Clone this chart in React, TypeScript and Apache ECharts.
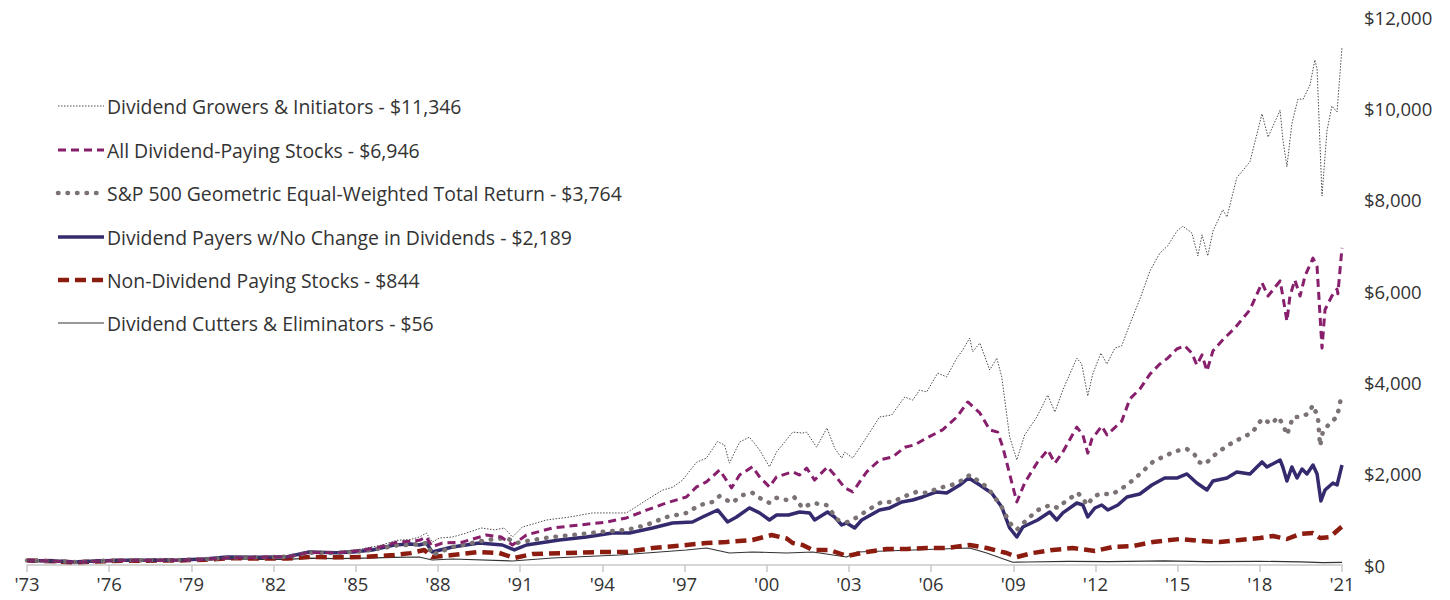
import React, { useEffect, useRef } from "react";
import * as echarts from "echarts";

const seriesNames = [
  "Dividend Growers & Initiators - $11,346",
  "All Dividend-Paying Stocks - $6,946",
  "S&P 500 Geometric Equal-Weighted Total Return - $3,764",
  "Dividend Payers w/No Change in Dividends - $2,189",
  "Non-Dividend Paying Stocks - $844",
  "Dividend Cutters & Eliminators - $56",
];

const yTicks = [0, 2000, 4000, 6000, 8000, 10000, 12000];
const xStartYear = 1973;
const xEndYear = 2021;

const growers: [number, number][] = [
  [1973, 100], [1973.5, 95], [1974, 80], [1974.75, 62], [1975.5, 85], [1976.5, 105], [1977.5, 105], [1978.5, 110],
  [1979.5, 130], [1980.5, 170], [1981.5, 180], [1982.5, 190], [1983.3, 300], [1984.3, 290], [1985.2, 350], [1985.9, 430],
  [1986.5, 540], [1987.0, 560], [1987.32, 613], [1987.58, 700], [1987.79, 500], [1988.05, 590], [1988.53, 613], [1989.04, 700],
  [1989.58, 810], [1990.06, 770], [1990.42, 810], [1990.72, 613], [1991.08, 830], [1991.96, 985], [1992.8, 1050], [1993.64, 1140],
  [1994.37, 1140], [1994.88, 1140], [1995.61, 1420], [1996.2, 1640], [1996.56, 1700], [1996.93, 1860], [1997.44, 2250], [1997.8, 2340],
  [1998.2, 2700], [1998.46, 2630], [1998.64, 2230], [1999.01, 2690], [1999.37, 2800], [1999.74, 2520], [2000.1, 2150], [2000.36, 2475],
  [2000.95, 2910], [2001.31, 2890], [2001.46, 2910], [2001.82, 2580], [2002.2, 3000], [2002.48, 2560], [2002.74, 2340], [2002.85, 2475],
  [2003.14, 2340], [2003.65, 2800], [2004.12, 3240], [2004.56, 3285], [2005.04, 3680], [2005.33, 3610], [2005.58, 3830], [2005.84, 3790],
  [2006.24, 4200], [2006.57, 4120], [2006.94, 4530], [2007.16, 4710], [2007.41, 4970], [2007.52, 4670], [2007.78, 4860], [2008.14, 4270],
  [2008.4, 4530], [2008.58, 4120], [2008.87, 2800], [2009.13, 2300], [2009.42, 2850], [2009.86, 3240], [2010.26, 3720], [2010.52, 3350],
  [2010.81, 3830], [2011.32, 4530], [2011.5, 4400], [2011.72, 3700], [2011.9, 4180], [2012.2, 4640], [2012.42, 4400], [2012.71, 4750],
  [2012.96, 4800], [2013.26, 5280], [2013.62, 5820], [2013.99, 6440], [2014.35, 6830], [2014.64, 6990], [2014.97, 7310], [2015.19, 7420],
  [2015.52, 7270], [2015.74, 6770], [2015.89, 7230], [2016.1, 6770], [2016.29, 7310], [2016.65, 7780], [2016.8, 7620], [2017.16, 8480],
  [2017.64, 8830], [2018.08, 9880], [2018.3, 9370], [2018.74, 9960], [2018.84, 9330], [2018.99, 8720], [2019.17, 9660], [2019.39, 10200],
  [2019.58, 10200], [2019.83, 10510], [2020.01, 11060], [2020.09, 10860], [2020.27, 8080], [2020.45, 9500], [2020.63, 10050], [2020.82, 9920],
  [2021.0, 11346],
];

const allPayers: [number, number][] = [
  [1973, 100], [1974, 82], [1974.75, 62], [1975.5, 82], [1976.5, 100], [1977.5, 100], [1978.5, 105], [1979.5, 125],
  [1980.5, 160], [1981.5, 170], [1982.5, 180], [1983.3, 280], [1984.3, 270], [1985.2, 320], [1985.9, 400], [1986.5, 500],
  [1987.0, 520], [1987.32, 540], [1987.58, 610], [1987.79, 400], [1988.16, 480], [1988.89, 500], [1989.77, 657], [1990.31, 613],
  [1990.72, 438], [1991.23, 657], [1992.18, 810], [1993.16, 876], [1994.15, 940], [1994.88, 1030], [1995.61, 1200], [1996.34, 1360],
  [1997.07, 1490], [1997.44, 1710], [1997.8, 1820], [1998.28, 2080], [1998.72, 1690], [1999.01, 1970], [1999.48, 2150], [1999.74, 1930],
  [2000.1, 1710], [2000.36, 1930], [2000.95, 2040], [2001.2, 1970], [2001.46, 2120], [2001.75, 1860], [2002.22, 2150], [2002.48, 1970],
  [2002.85, 1690], [2003.14, 1600], [2003.65, 2040], [2004.12, 2300], [2004.6, 2365], [2005.04, 2580], [2005.4, 2630], [2005.84, 2780],
  [2006.42, 2960], [2006.94, 3240], [2007.34, 3570], [2007.78, 3330], [2008.14, 2960], [2008.43, 2910], [2008.62, 2580], [2008.95, 1800],
  [2009.13, 1380], [2009.42, 1800], [2009.86, 2230], [2010.26, 2520], [2010.52, 2230], [2010.81, 2475], [2011.32, 3020], [2011.54, 2850],
  [2011.72, 2450], [2011.87, 2760], [2012.23, 3040], [2012.42, 2850], [2012.96, 3150], [2013.26, 3640], [2013.62, 3850], [2013.99, 4180],
  [2014.35, 4400], [2014.64, 4530], [2014.97, 4730], [2015.26, 4800], [2015.52, 4640], [2015.7, 4380], [2015.89, 4600], [2016.07, 4250],
  [2016.29, 4690], [2016.65, 4930], [2017.09, 5190], [2017.64, 5590], [2018.08, 6180], [2018.3, 5890], [2018.74, 6220], [2018.84, 5890],
  [2018.99, 5340], [2019.1, 5890], [2019.28, 6240], [2019.47, 5890], [2019.65, 6330], [2019.94, 6720], [2020.09, 6530], [2020.27, 4750],
  [2020.38, 5590], [2020.63, 5890], [2020.82, 6040], [2020.85, 5940], [2021.0, 6946],
];

const equalWeight: [number, number][] = [
  [1973, 100], [1974, 85], [1974.75, 65], [1975.5, 85], [1976.5, 105], [1977.5, 105], [1978.5, 110], [1979.5, 125],
  [1980.5, 165], [1981.5, 170], [1982.5, 180], [1983.3, 270], [1984.3, 260], [1985.2, 300], [1985.9, 360], [1986.5, 430],
  [1987.0, 440], [1987.6, 480], [1987.79, 219], [1988.53, 394], [1989.77, 548], [1990.5, 591], [1990.86, 482], [1991.45, 548],
  [1992.18, 613], [1992.91, 657], [1993.9, 723], [1994.88, 767], [1995.61, 876], [1996.34, 1050], [1997.07, 1140], [1997.55, 1310],
  [1998.02, 1380], [1998.28, 1510], [1998.72, 1360], [1999.12, 1530], [1999.48, 1580], [1999.74, 1470], [2000.1, 1360], [2000.36, 1470],
  [2000.73, 1424], [2001.0, 1489], [2001.31, 1250], [2001.68, 1360], [2002.19, 1310], [2002.59, 990], [2002.95, 940], [2003.32, 1050],
  [2003.68, 1200], [2004.2, 1380], [2004.6, 1380], [2004.96, 1490], [2005.47, 1600], [2005.84, 1580], [2006.31, 1690], [2006.75, 1750],
  [2007.16, 1860], [2007.41, 1970], [2007.78, 1820], [2008.07, 1690], [2008.58, 1270], [2008.87, 920], [2009.13, 770], [2009.49, 990],
  [2009.89, 1200], [2010.33, 1310], [2010.63, 1250], [2010.88, 1380], [2011.36, 1580], [2011.72, 1310], [2011.9, 1490], [2012.16, 1555],
  [2012.63, 1555], [2013.15, 1750], [2013.62, 1990], [2014.1, 2260], [2014.61, 2410], [2014.97, 2500], [2015.34, 2540], [2015.63, 2410],
  [2015.74, 2260], [2016.0, 2210], [2016.43, 2450], [2016.8, 2610], [2017.38, 2800], [2017.71, 2890], [2018.08, 3200], [2018.44, 3090],
  [2018.66, 3240], [2018.84, 3090], [2018.99, 2850], [2019.21, 3240], [2019.47, 3240], [2019.76, 3310], [2019.94, 3500], [2020.12, 3240],
  [2020.2, 2610], [2020.31, 2940], [2020.63, 3150], [2020.82, 3240], [2021.0, 3764],
];

const noChange: [number, number][] = [
  [1973, 100], [1974, 85], [1974.75, 65], [1975.5, 85], [1976.5, 105], [1977.5, 105], [1978.5, 110], [1979.5, 130],
  [1980.3, 175], [1981.5, 170], [1982.5, 180], [1983.3, 285], [1984.3, 270], [1984.9, 285], [1985.6, 330], [1986.4, 438],
  [1987.0, 460], [1987.32, 438], [1987.58, 482], [1987.79, 285], [1988.53, 394], [1989.51, 482], [1990.35, 438], [1990.79, 329],
  [1991.23, 438], [1992.43, 548], [1993.42, 613], [1994.37, 701], [1994.99, 701], [1995.83, 810], [1996.56, 920], [1997.29, 942],
  [1997.66, 1050], [1998.21, 1205], [1998.57, 942], [1998.9, 1050], [1999.37, 1250], [1999.74, 1140], [2000.1, 986], [2000.36, 1095],
  [2000.8, 1095], [2001.2, 1160], [2001.57, 1140], [2001.75, 986], [2002.22, 1160], [2002.48, 1050], [2002.74, 876], [2002.92, 920],
  [2003.21, 810], [2003.47, 986], [2004.12, 1205], [2004.49, 1250], [2004.93, 1380], [2005.33, 1424], [2005.69, 1490], [2006.2, 1600],
  [2006.57, 1577], [2007.05, 1750], [2007.37, 1905], [2007.78, 1750], [2008.21, 1577], [2008.58, 1270], [2008.87, 810], [2009.13, 613],
  [2009.35, 832], [2009.89, 986], [2010.33, 1160], [2010.59, 986], [2010.81, 1140], [2011.32, 1358], [2011.54, 1314], [2011.72, 1051],
  [2011.98, 1248], [2012.23, 1314], [2012.45, 1205], [2012.82, 1314], [2013.15, 1489], [2013.62, 1555], [2014.06, 1752], [2014.53, 1905],
  [2014.97, 1905], [2015.34, 1993], [2015.7, 1796], [2016.07, 1642], [2016.29, 1840], [2016.8, 1905], [2017.16, 2037], [2017.64, 1993],
  [2018.08, 2256], [2018.26, 2146], [2018.74, 2300], [2018.84, 2146], [2018.99, 1840], [2019.17, 2146], [2019.36, 1905], [2019.54, 2102],
  [2019.72, 1993], [2019.94, 2190], [2020.09, 1993], [2020.23, 1402], [2020.38, 1642], [2020.67, 1796], [2020.82, 1752], [2021.0, 2189],
];

const nonPayers: [number, number][] = [
  [1973, 100], [1974, 80], [1974.75, 55], [1975.5, 75], [1976.5, 95], [1977.5, 95], [1978.5, 100], [1979.5, 115],
  [1980.5, 150], [1981.5, 140], [1982.5, 140], [1983.3, 175], [1984.3, 170], [1985.3, 175], [1986.4, 219], [1987.0, 260],
  [1987.5, 329], [1987.79, 175], [1988.53, 219], [1989.51, 285], [1990.24, 263], [1990.79, 153], [1991.45, 241], [1992.68, 263],
  [1993.9, 285], [1994.88, 285], [1995.83, 372], [1997.07, 438], [1997.8, 482], [1998.53, 504], [1999.48, 548], [2000.18, 657],
  [2000.73, 580], [2000.95, 482], [2001.31, 438], [2001.68, 329], [2002.3, 329], [2002.92, 197], [2003.65, 285], [2004.38, 350],
  [2005.11, 350], [2005.84, 372], [2006.57, 372], [2007.41, 438], [2008.03, 372], [2008.76, 263], [2009.13, 175], [2009.71, 263],
  [2010.44, 329], [2011.17, 372], [2011.6, 340], [2011.98, 307], [2012.63, 394], [2013.37, 416], [2014.1, 504], [2015.08, 569],
  [2015.81, 526], [2016.54, 504], [2017.27, 548], [2018.0, 591], [2018.48, 635], [2018.99, 569], [2019.47, 679], [2019.94, 701],
  [2020.2, 591], [2020.56, 613], [2021.0, 844],
];

const cutters: [number, number][] = [
  [1973, 100], [1974, 75], [1974.75, 50], [1975.5, 70], [1976.5, 90], [1977.5, 90], [1978.5, 95], [1979.5, 105],
  [1980.5, 130], [1981.5, 125], [1982.5, 125], [1983.3, 150], [1984.3, 140], [1985.3, 150], [1986.4, 165], [1987.32, 175],
  [1987.79, 110], [1988.53, 131], [1990.72, 88], [1992.18, 153], [1994.63, 219], [1997.07, 329], [1997.8, 372], [1998.64, 263],
  [1999.48, 285], [2000.73, 263], [2001.68, 285], [2002.92, 175], [2003.3, 285], [2005.33, 329], [2007.41, 372], [2008.03, 263],
  [2008.98, 60], [2009.5, 66], [2011, 80], [2012.5, 75], [2014.5, 90], [2016, 75], [2018, 80], [2019.5, 70],
  [2020.3, 50], [2021, 56],
];

const seriesData = [growers, allPayers, equalWeight, noChange, nonPayers, cutters];

const lineStyles = [
  { color: "#4d4d4d", width: 1, type: [1.5, 1.5], cap: "butt" },
  { color: "#871F6C", width: 3, type: [8, 5], cap: "butt" },
  { color: "#7A7273", width: 4.5, type: [0.5, 9], cap: "round" },
  { color: "#342B6E", width: 3.5, type: "solid", cap: "butt" },
  { color: "#8C1C10", width: 4.5, type: [11, 6], cap: "butt" },
  { color: "#333333", width: 1.2, type: "solid", cap: "butt" },
];

const FONT = "'Open Sans', 'Noto Sans', sans-serif";

export default function App() {
  const ref = useRef<HTMLDivElement>(null);
  useEffect(() => {
    if (!ref.current) return;
    const chart = echarts.init(ref.current, null, { renderer: "svg" });
    const legendRows = [106, 150, 193, 237, 280, 323];
    const graphics: any[] = [];
    seriesNames.forEach((name, i) => {
      const ls = lineStyles[i];
      graphics.push({
        type: "line",
        shape: { x1: 58, y1: legendRows[i], x2: 104, y2: legendRows[i] },
        style: {
          stroke: ls.color,
          lineWidth: ls.width,
          lineDash: ls.type === "solid" ? null : ls.type,
          lineCap: ls.cap,
        },
      });
      graphics.push({
        type: "text",
        x: 107,
        y: legendRows[i],
        style: {
          text: name,
          fill: "#333333",
          fontSize: 19.4,
          fontFamily: FONT,
          verticalAlign: "middle",
          align: "left",
        },
      });
    });

    chart.setOption({
      animation: false,
      grid: { left: 27, right: 108, top: 17, bottom: 35, containLabel: false },
      xAxis: {
        type: "value",
        min: xStartYear,
        max: xEndYear,
        interval: 3,
        axisLine: { show: true, lineStyle: { color: "#c8c8c8", width: 1.5 } },
        axisTick: { show: true, length: 7, lineStyle: { color: "#c8c8c8", width: 1.5 } },
        splitLine: { show: false },
        axisLabel: {
          margin: 9,
          color: "#333333",
          fontSize: 18.5,
          fontFamily: FONT,
          formatter: (v: number) => "'" + String(v).slice(2),
        },
      },
      yAxis: {
        type: "value",
        position: "right",
        min: yTicks[0],
        max: yTicks[yTicks.length - 1],
        interval: 2000,
        axisLine: { show: false },
        axisTick: { show: false },
        splitLine: { show: false },
        axisLabel: {
          margin: 22,
          color: "#333333",
          fontSize: 18.5,
          fontFamily: FONT,
          formatter: (v: number) => "$" + v.toLocaleString("en-US"),
        },
      },
      series: seriesNames.map((name, i) => ({
        name,
        type: "line",
        data: seriesData[i],
        showSymbol: false,
        symbol: "none",
        z: 10 - i,
        lineStyle: {
          color: lineStyles[i].color,
          width: lineStyles[i].width,
          type: lineStyles[i].type,
          cap: lineStyles[i].cap,
          join: "round",
        },
      })),
      graphic: graphics,
    });
    return () => chart.dispose();
  }, []);
  return (
    <div
      ref={ref}
      style={{ position: "fixed", left: 0, top: 0, width: 1450, height: 600, background: "#fff" }}
    />
  );
}
